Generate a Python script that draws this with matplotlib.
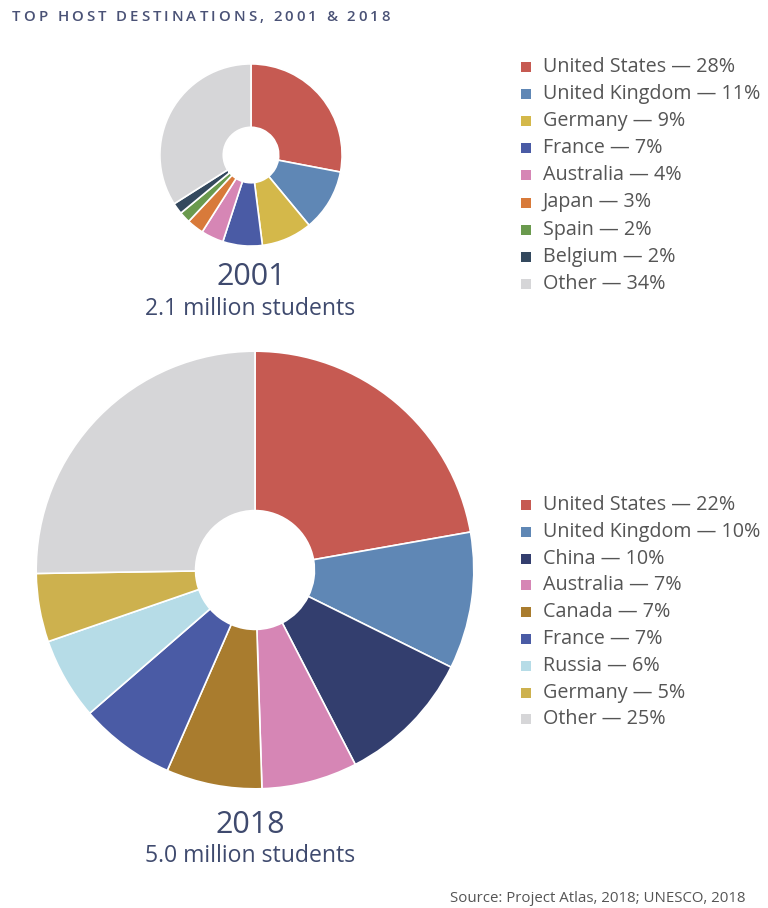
import matplotlib
matplotlib.use("Agg")
import matplotlib.pyplot as plt
from matplotlib.patches import Rectangle

plt.rcParams['font.family'] = ['Open Sans', 'DejaVu Sans']

# ---- data ----
labels_2001 = ["United States", "United Kingdom", "Germany", "France", "Australia",
               "Japan", "Spain", "Belgium", "Other"]
values_2001 = [28, 11, 9, 7, 4, 3, 2, 2, 34]
colors_2001 = ["#C65A52", "#5F87B5", "#D4B84A", "#4A5BA5", "#D686B5",
               "#D87A3A", "#6A9A4E", "#34495E", "#D6D6D8"]

labels_2018 = ["United States", "United Kingdom", "China", "Australia", "Canada",
               "France", "Russia", "Germany", "Other"]
values_2018 = [22, 10, 10, 7, 7, 7, 6, 5, 25]
colors_2018 = ["#C65A52", "#5F87B5", "#333E6E", "#D686B5", "#A97C2E",
               "#4A5BA5", "#B6DCE7", "#CDB14E", "#D6D6D8"]

title = "TOP HOST DESTINATIONS, 2001 & 2018"
year_2001, students_2001 = "2001", "2.1 million students"
year_2018, students_2018 = "2018", "5.0 million students"
source = "Source: Project Atlas, 2018; UNESCO, 2018"

W, H = 768, 908
fig = plt.figure(figsize=(W / 100, H / 100), dpi=100)
fig.patch.set_facecolor("white")

TXT = "#3F4A6E"
GRAY = "#555555"


def px_axes(cx, cy, r):
    return fig.add_axes([(cx - r) / W, (H - cy - r) / H, 2 * r / W, 2 * r / H])


def donut(ax, values, colors, hole_frac):
    ax.pie(values, colors=colors, startangle=90, counterclock=False, radius=1,
           wedgeprops=dict(width=1 - hole_frac, edgecolor="white", linewidth=1.2))
    ax.set_xlim(-1.01, 1.01)
    ax.set_ylim(-1.01, 1.01)
    ax.set_aspect("equal")
    ax.axis("off")


ax1 = px_axes(251, 155, 92)
donut(ax1, values_2001, colors_2001, 28 / 92)

ax2 = px_axes(255, 570, 221)
donut(ax2, values_2018, colors_2018, 60 / 221)


def legend(labels, values, colors, x0, y0, dy):
    for i, (lab, v, c) in enumerate(zip(labels, values, colors)):
        y = y0 + i * dy
        fig.patches.append(Rectangle(((x0 - 5) / W, (H - y - 5) / H), 10 / W, 10 / H,
                                     transform=fig.transFigure, facecolor=c,
                                     edgecolor="none"))
        fig.text((x0 + 17) / W, (H - y) / H, f"{lab} \u2014 {v}%", color=GRAY,
                 fontsize=14.2, va="center", ha="left")


legend(labels_2001, values_2001, colors_2001, 526, 67, 27.1)
legend(labels_2018, values_2018, colors_2018, 526, 505, 26.8)

# letter-spaced title
renderer = fig.canvas.get_renderer()
tkw = dict(color="#4A5276", fontsize=10.8, fontweight="semibold", va="center", ha="left")


def text_w(s):
    t = fig.text(0, 0, s, **tkw)
    w = t.get_window_extent(renderer).width
    t.remove()
    return w


sw = text_w("T T") - text_w("TT")
widths = [text_w(ch) if ch != " " else sw for ch in title]
x_start, x_end = 12.0, 390.0
gap = (x_end - x_start - sum(widths)) / (len(title) - 1)
x = x_start
for ch, w in zip(title, widths):
    if ch != " ":
        fig.text(x / W, (H - 17) / H, ch, **tkw)
    x += w + gap

fig.text(251 / W, (H - 277) / H, year_2001, color=TXT, fontsize=22, va="center", ha="center")
fig.text(250 / W, (H - 309) / H, students_2001, color=TXT, fontsize=16.6, va="center", ha="center")
fig.text(250 / W, (H - 825) / H, year_2018, color=TXT, fontsize=22, va="center", ha="center")
fig.text(250 / W, (H - 856) / H, students_2018, color=TXT, fontsize=16.6, va="center", ha="center")

fig.text(745 / W, (H - 898) / H, source, color=GRAY, fontsize=10.8, va="center", ha="right")

fig.savefig("out.png", dpi=100, facecolor="white")
